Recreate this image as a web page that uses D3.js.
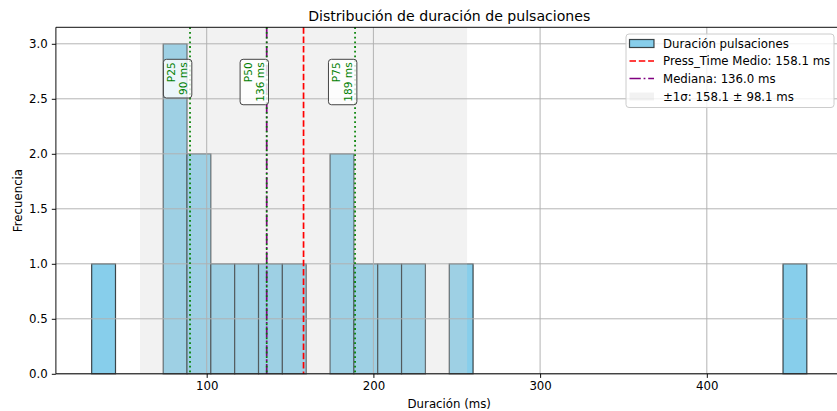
<!DOCTYPE html>
<html>
<head>
<meta charset="utf-8">
<script src="https://cdn.jsdelivr.net/npm/d3@7"></script>
<style>
  body { margin: 0; background: #fff; }
  text { font-family: "DejaVu Sans", sans-serif; }
</style>
</head>
<body>
<svg width="837" height="411"></svg>
<script>
// histogram bins (30 bins between min and max duration)
const binStart = 31
const binEnd = 460
const counts = [1, 0, 0, 3, 2, 1, 1, 1, 1, 0, 2, 1, 1, 1, 0, 1, 0, 0, 0, 0, 0, 0, 0, 0, 0, 0, 0, 0, 0, 1]

const meanMs = 158.1
const stdMs = 98.1
const medianMs = 136.0
const percentiles = [
  {name: "P25", value: 90},
  {name: "P50", value: 136},
  {name: "P75", value: 189}
]

const xTicks = [100, 200, 300, 400]
const yTicks = [0, 0.5, 1.0, 1.5, 2.0, 2.5, 3.0]
const yMax = 3.15

const legendLabels = [
  "Duración pulsaciones",
  "Press_Time Medio: " + meanMs.toFixed(1) + " ms",
  "Mediana: " + medianMs.toFixed(1) + " ms",
  "±1σ: " + meanMs.toFixed(1) + " ± " + stdMs.toFixed(1) + " ms"
]

const svg = d3.select("svg")
const plotLeft = 55.9, plotRight = 842.6, plotTop = 27.3, plotBottom = 373.8
const fs = "11.75px"

const margin = 0.05 * (binEnd - binStart)
const x = d3.scaleLinear().domain([binStart - margin, binEnd + margin]).range([plotLeft, plotRight])
const y = d3.scaleLinear().domain([0, yMax]).range([plotBottom, plotTop])
const binWidth = (binEnd - binStart) / counts.length

const bins = counts.map((c, i) => ({x0: binStart + i * binWidth, x1: binStart + (i + 1) * binWidth, count: c}))

// bars
svg.append("g")
  .selectAll("rect")
  .data(bins.filter(d => d.count > 0))
  .enter().append("rect")
  .attr("x", d => x(d.x0))
  .attr("y", d => y(d.count))
  .attr("width", d => x(d.x1) - x(d.x0))
  .attr("height", d => y(0) - y(d.count))
  .style("fill", "#87ceeb")
  .style("stroke", "#000")
  .style("stroke-opacity", 0.7)
  .style("stroke-width", 1.2)

// +-1 sigma band
svg.append("rect")
  .attr("x", x(meanMs - stdMs))
  .attr("y", plotTop)
  .attr("width", x(meanMs + stdMs) - x(meanMs - stdMs))
  .attr("height", plotBottom - plotTop)
  .style("fill", "#d3d3d3")
  .style("fill-opacity", 0.3)

// grid
const grid = svg.append("g").style("stroke", "#b0b0b0").style("stroke-width", 0.95)
grid.selectAll(".gx").data(xTicks).enter().append("line")
  .attr("x1", d => x(d)).attr("x2", d => x(d)).attr("y1", plotTop).attr("y2", plotBottom)
grid.selectAll(".gy").data(yTicks).enter().append("line")
  .attr("x1", plotLeft).attr("x2", plotRight).attr("y1", d => y(d)).attr("y2", d => y(d))

// reference lines
function vline(v, color, dash) {
  svg.append("line")
    .attr("x1", x(v)).attr("x2", x(v)).attr("y1", plotTop).attr("y2", plotBottom)
    .style("stroke", color).style("stroke-width", 1.7)
    .style("stroke-dasharray", dash)
}
vline(meanMs, "#ff0000", "6.5,2.8")
vline(medianMs, "#800080", "11.3,2.8,1.8,2.8")
percentiles.forEach(p => vline(p.value, "#008000", "1.8,2.9"))

// axes
const xAxis = svg.append("g").attr("transform", "translate(0," + plotBottom + ")")
  .call(d3.axisBottom(x).tickValues(xTicks).tickSize(4.1).tickPadding(4.1).tickFormat(d3.format("d")))
const yAxis = svg.append("g").attr("transform", "translate(" + plotLeft + ",0)")
  .call(d3.axisLeft(y).tickValues(yTicks).tickSize(4.1).tickPadding(4.1).tickFormat(d3.format(".1f")))
;[xAxis, yAxis].forEach(a => {
  a.select(".domain").remove()
  a.selectAll("text").style("font-size", fs).style("fill", "#000")
  a.selectAll("line").style("stroke", "#000").style("stroke-width", 0.95)
})
svg.append("line").attr("x1", plotLeft).attr("x2", plotRight).attr("y1", plotBottom).attr("y2", plotBottom)
  .style("stroke", "#000").style("stroke-width", 0.95)
svg.append("line").attr("x1", plotLeft).attr("x2", plotRight).attr("y1", plotTop).attr("y2", plotTop)
  .style("stroke", "#000").style("stroke-width", 0.95)
svg.append("line").attr("x1", plotLeft).attr("x2", plotLeft).attr("y1", plotTop).attr("y2", plotBottom)
  .style("stroke", "#000").style("stroke-width", 0.95)

// percentile labels (rotated boxes)
const pad = 3
percentiles.forEach(p => {
  const g = svg.append("g")
    .attr("transform", "translate(" + x(p.value) + "," + 59.3 + ") rotate(-90)")
  const box = g.append("rect")
  const lines = [p.name, p.value + " ms"]
  const texts = lines.map((t, i) => g.append("text")
    .attr("x", -pad)
    .attr("y", -15.2 + i * 12.4)
    .attr("text-anchor", "end")
    .style("font-size", "10.6px")
    .style("fill", "#008000")
    .text(t))
  const len = d3.max(texts, t => t.node().getComputedTextLength())
  box.attr("x", -(len + 2 * pad)).attr("y", -26.6)
    .attr("width", len + 2 * pad).attr("height", 28.4)
    .attr("rx", 3)
    .style("fill", "#fff").style("fill-opacity", 0.8)
    .style("stroke", "#444").style("stroke-width", 1)
})

// title & labels
svg.append("text").attr("x", (plotLeft + plotRight) / 2).attr("y", 20.5)
  .attr("text-anchor", "middle").style("font-size", "14.1px").text("Distribución de duración de pulsaciones")
svg.append("text").attr("x", (plotLeft + plotRight) / 2).attr("y", 408)
  .attr("text-anchor", "middle").style("font-size", fs).text("Duración (ms)")
svg.append("text").attr("transform", "translate(22," + (plotTop + plotBottom) / 2 + ") rotate(-90)")
  .attr("text-anchor", "middle").style("font-size", fs).text("Frecuencia")

// legend
const lg = svg.append("g")
lg.append("rect").attr("x", 626).attr("y", 34).attr("width", 208).attr("height", 73.5).attr("rx", 3)
  .style("fill", "#fff").style("fill-opacity", 0.8).style("stroke", "#cccccc").style("stroke-width", 1)
const rowY = [43.5, 61, 78.5, 96.5]
lg.append("rect").attr("x", 629.5).attr("y", rowY[0] - 4).attr("width", 24.5).attr("height", 8)
  .style("fill", "#87ceeb").style("stroke", "#000").style("stroke-opacity", 0.7).style("stroke-width", 1.2)
lg.append("line").attr("x1", 629.5).attr("x2", 654).attr("y1", rowY[1]).attr("y2", rowY[1])
  .style("stroke", "#ff0000").style("stroke-width", 1.7).style("stroke-dasharray", "6.5,2.8")
lg.append("line").attr("x1", 629.5).attr("x2", 654).attr("y1", rowY[2]).attr("y2", rowY[2])
  .style("stroke", "#800080").style("stroke-width", 1.7).style("stroke-dasharray", "11.3,2.8,1.8,2.8")
lg.append("rect").attr("x", 629.5).attr("y", rowY[3] - 4).attr("width", 24.5).attr("height", 8)
  .style("fill", "#d3d3d3").style("fill-opacity", 0.3)
lg.selectAll(".lt").data(legendLabels).enter().append("text")
  .attr("x", 663).attr("y", (d, i) => rowY[i] + 4.2)
  .style("font-size", fs).text(d => d)
</script>
</body>
</html>
